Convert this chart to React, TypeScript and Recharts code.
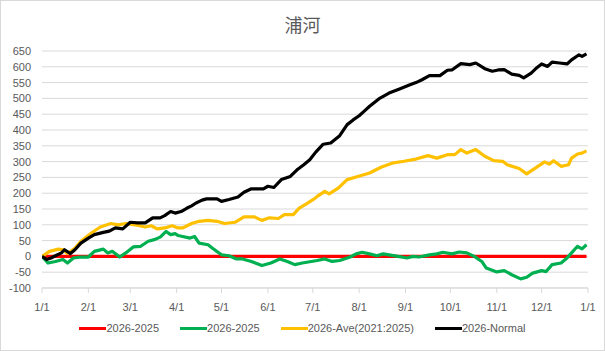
import { LineChart, Line, XAxis, YAxis, CartesianGrid, Legend } from "recharts";

// day-of-year (0 = 1/1), cumulative difference
const diff2025: [number, number][] = [[0, 0], [364, 0]];

const diff2025b: [number, number][] = [
  [0, 0], [4, -21], [9, -16], [14, -10], [17, -21], [21, -5], [26, -2], [31, -2], [35, 16], [41, 23],
  [44, 11], [47, 16], [52, -2], [56, 11], [61, 30], [66, 32], [71, 48], [75, 53], [79, 61], [83, 79],
  [86, 69], [89, 72], [91, 66], [94, 63], [99, 58], [102, 63], [105, 42], [111, 37], [114, 26], [120, 5],
  [125, 2], [130, -8], [134, -8], [140, -16], [147, -29], [153, -21], [159, -8], [164, -16], [169, -26], [174, -21],
  [180, -16], [184, -13], [189, -8], [194, -16], [199, -13], [206, -2], [210, 8], [214, 13], [219, 8], [224, 2],
  [228, 8], [232, 5], [238, 0], [244, -5], [248, 0], [252, -2], [259, 5], [264, 8], [268, 13], [274, 8],
  [279, 14], [284, 11], [289, 0], [294, -16], [297, -37], [304, -49], [309, -45], [314, -58], [320, -71], [324, -66],
  [328, -53], [334, -45], [337, -48], [341, -26], [347, -21], [351, -5], [354, 11], [358, 32], [361, 24], [364, 37],
];

const diffAve: [number, number][] = [
  [0, 0], [5, 16], [11, 23], [14, 21], [17, 9], [22, 26], [26, 48], [33, 74], [39, 93], [46, 104],
  [51, 100], [56, 104], [62, 100], [69, 93], [73, 97], [77, 87], [82, 90], [87, 97], [91, 90], [94, 90],
  [100, 104], [105, 111], [111, 114], [117, 111], [122, 104], [129, 108], [135, 125], [142, 125], [147, 114], [152, 122],
  [158, 120], [162, 132], [168, 132], [172, 153], [177, 167], [182, 182], [184, 190], [189, 206], [192, 198], [198, 216],
  [204, 243], [210, 251], [219, 264], [227, 283], [234, 295], [242, 301], [250, 308], [258, 319], [264, 311], [271, 322],
  [276, 322], [280, 338], [284, 327], [290, 338], [296, 317], [302, 303], [308, 301], [311, 290], [319, 278], [324, 261],
  [330, 280], [336, 299], [339, 292], [342, 303], [347, 285], [352, 290], [354, 311], [358, 324], [361, 327], [364, 334],
];

const diffNormal: [number, number][] = [
  [0, 0], [3, -10], [6, -5], [9, 2], [13, 11], [15, 21], [19, 9], [22, 21], [26, 42], [31, 58],
  [35, 69], [41, 76], [45, 80], [49, 90], [54, 87], [59, 108], [64, 106], [69, 106], [74, 122], [79, 122],
  [82, 129], [86, 142], [89, 137], [93, 142], [97, 153], [100, 160], [103, 169], [107, 178], [110, 182], [117, 182],
  [120, 174], [125, 180], [131, 188], [135, 203], [140, 214], [148, 214], [151, 222], [155, 218], [160, 243], [166, 253],
  [171, 276], [175, 290], [179, 306], [183, 330], [188, 355], [193, 359], [199, 382], [204, 417], [208, 432], [212, 445],
  [216, 462], [219, 475], [226, 501], [232, 517], [239, 530], [246, 543], [250, 550], [254, 559], [259, 572], [266, 572],
  [271, 589], [274, 590], [280, 610], [286, 607], [290, 612], [296, 594], [301, 586], [305, 590], [309, 591], [314, 577],
  [319, 573], [322, 565], [327, 580], [331, 598], [334, 609], [338, 601], [341, 615], [346, 612], [351, 609], [354, 622],
  [359, 638], [361, 633], [364, 641],
];

const monthTicks = [0, 31, 59, 90, 120, 151, 181, 212, 243, 273, 304, 334, 365];
const monthLabels = ["1/1", "2/1", "3/1", "4/1", "5/1", "6/1", "7/1", "8/1", "9/1", "10/1", "11/1", "12/1", "1/1"];
const yTicks = [-100, -50, 0, 50, 100, 150, 200, 250, 300, 350, 400, 450, 500, 550, 600, 650];

const seriesNames = ["2026-2025", "2026-2025", "2026-Ave(2021:2025)", "2026-Normal"];
const seriesColors = ["#FF0000", "#00B050", "#FFC000", "#000000"];
const seriesData = [diff2025, diff2025b, diffAve, diffNormal];

const toRows = (pts: [number, number][]) => pts.map(([d, v]) => ({ d, v }));

const FONT = "'Liberation Sans', Arial, sans-serif";

function LegendContent() {
  return (
    <div style={{ display: "flex", justifyContent: "center", alignItems: "center", fontFamily: FONT, fontSize: 11, color: "#595959" }}>
      {seriesNames.map((name, i) => (
        <div key={i} style={{ display: "flex", alignItems: "center", marginRight: i < seriesNames.length - 1 ? 21 : 0 }}>
          <div style={{ width: 27, height: 3, background: seriesColors[i] }} />
          <span>{name}</span>
        </div>
      ))}
    </div>
  );
}

export default function App() {
  return (
    <div style={{ position: "absolute", left: 0, top: 0, width: 605, height: 351, background: "#fff" }}>
      <div
        style={{
          position: "absolute", left: 0, top: 12, width: 605, textAlign: "center",
          fontFamily: "'Noto Sans CJK JP', sans-serif", fontSize: 18, lineHeight: "24px", color: "#595959",
        }}
      >
        浦河
      </div>
      <LineChart width={605} height={351} margin={{ top: 51, right: 17, left: 0, bottom: 33 }}>
        <CartesianGrid horizontal vertical={false} stroke="#d9d9d9" />
        <XAxis
          dataKey="d"
          type="number"
          domain={[0, 365]}
          ticks={monthTicks}
          interval={0}
          tickFormatter={(v: number) => monthLabels[monthTicks.indexOf(v)]}
          height={30}
          stroke="#d9d9d9"
          tickSize={5}
          tickMargin={10}
          tick={{ fill: "#595959", fontSize: 11, fontFamily: FONT }}
          allowDataOverflow
        />
        <YAxis
          type="number"
          domain={[-100, 650]}
          ticks={yTicks}
          interval={0}
          width={42}
          axisLine={false}
          tickLine={false}
          tickSize={0}
          tickMargin={11}
          tick={{ fill: "#595959", fontSize: 11, fontFamily: FONT }}
        />
        <Legend
          verticalAlign="middle"
          align="center"
          layout="horizontal"
          wrapperStyle={{ top: 322, left: 0, width: 605 }}
          content={() => <LegendContent />}
        />
        {seriesData.map((pts, i) => (
          <Line
            key={i}
            data={toRows(pts)}
            dataKey="v"
            name={seriesNames[i]}
            stroke={seriesColors[i]}
            strokeWidth={3.2}
            dot={false}
            activeDot={false}
            type="linear"
            strokeLinejoin="round"
            isAnimationActive={false}
          />
        ))}
      </LineChart>
      <div style={{ position: "absolute", left: 0, top: 0, width: 605, height: 351, border: "1px solid #d9d9d9", boxSizing: "border-box", pointerEvents: "none" }} />
    </div>
  );
}
